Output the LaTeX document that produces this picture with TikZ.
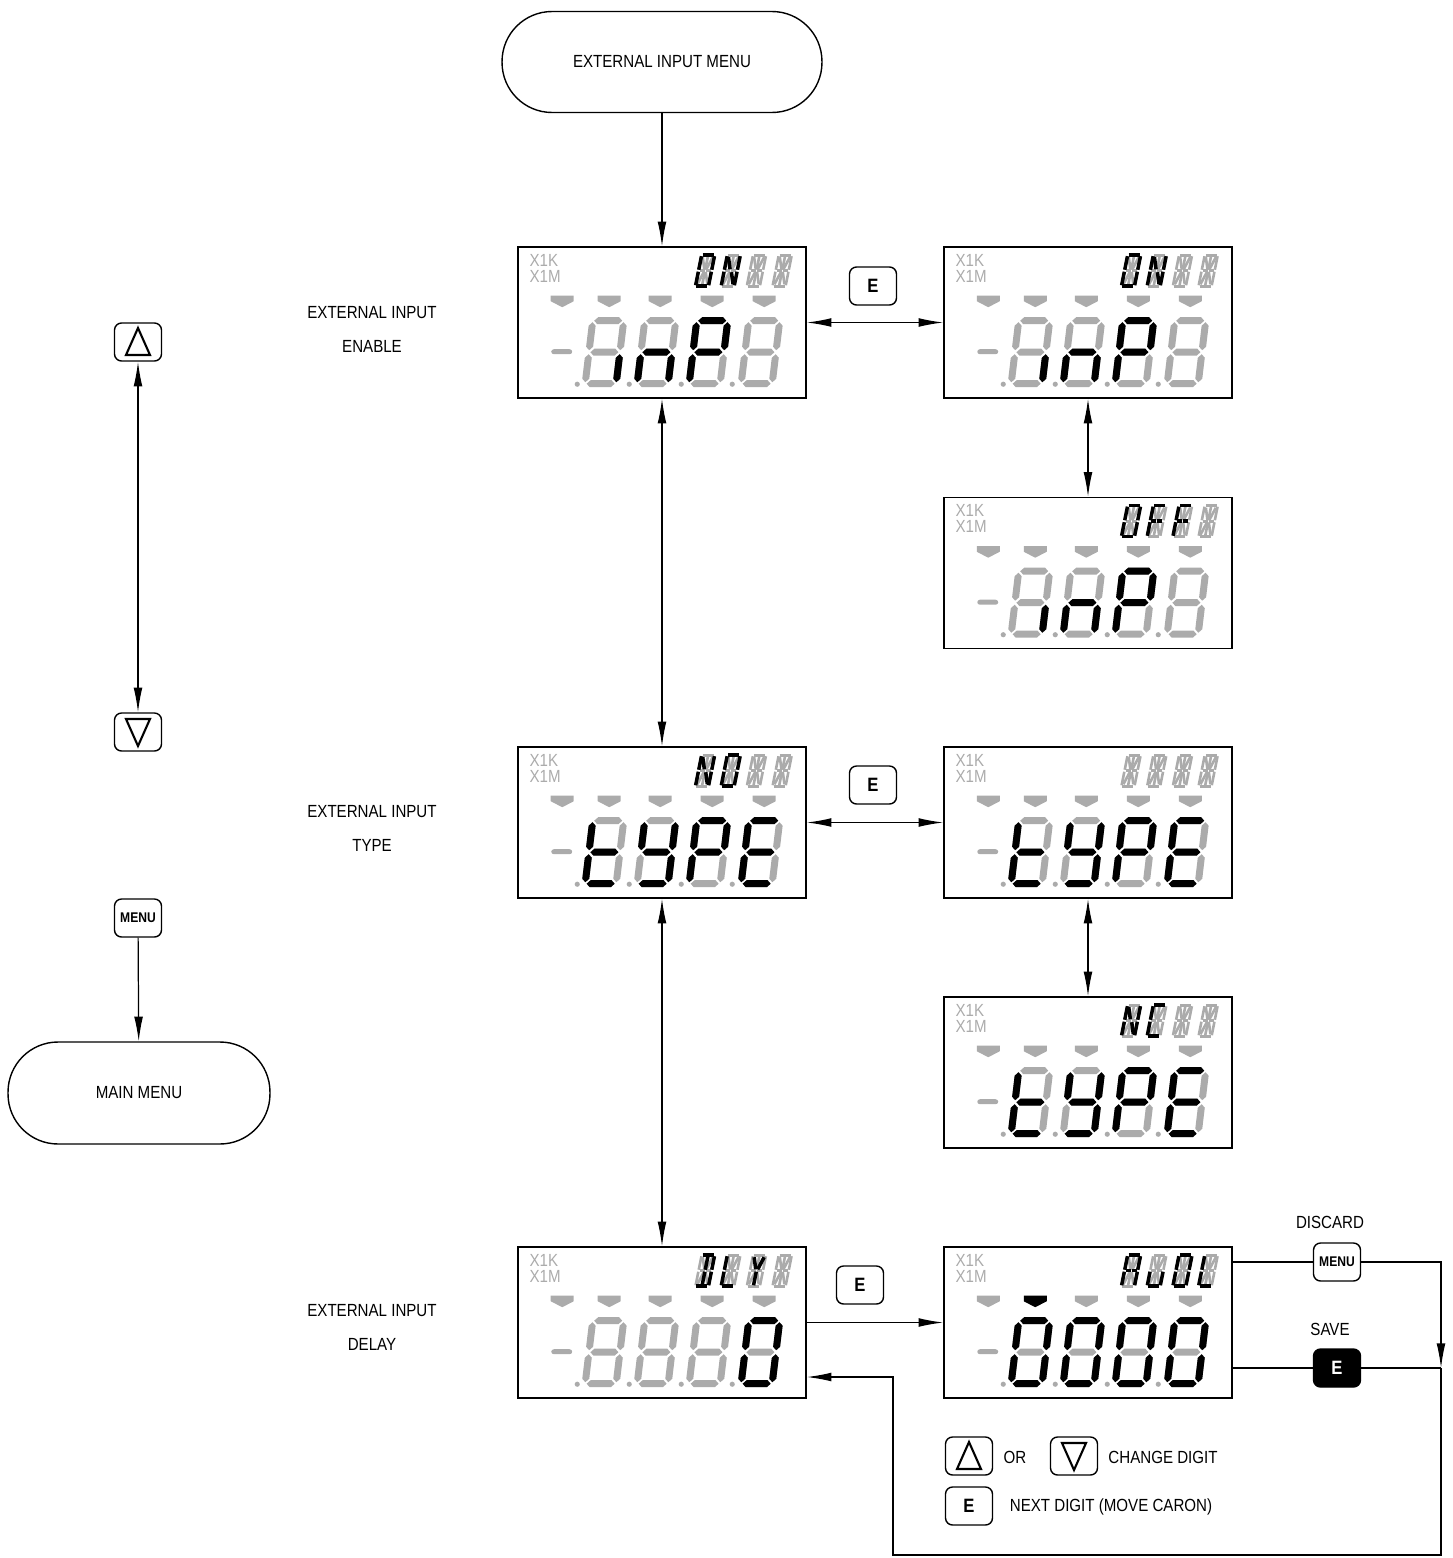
\documentclass[tikz,border=0pt]{standalone}
\usepackage{fontspec}
\setmainfont{Liberation Sans}[FakeStretch=0.86]
\usetikzlibrary{arrows.meta, calc, positioning}

\definecolor{LcdOff}{HTML}{ABABAB}
\colorlet{LcdOn}{black}

% 7-segment digit, origin at lower left corner
\expandafter\def\csname dseg@a\endcsname{(5,-66.5) -- (8.5,-70) -- (29.5,-70) -- (33,-66.5) -- (29.5,-63) -- (8.5,-63) -- cycle}
\expandafter\def\csname dseg@b\endcsname{(34.5,-65) -- (38,-61.5) -- (38,-40.5) -- (34.5,-37) -- (31,-40.5) -- (31,-61.5) -- cycle}
\expandafter\def\csname dseg@c\endcsname{(34.5,-33) -- (38,-29.5) -- (38,-8.5) -- (34.5,-5) -- (31,-8.5) -- (31,-29.5) -- cycle}
\expandafter\def\csname dseg@d\endcsname{(5,-3.5) -- (8.5,-7) -- (29.5,-7) -- (33,-3.5) -- (29.5,0) -- (8.5,0) -- cycle}
\expandafter\def\csname dseg@e\endcsname{(3.5,-33) -- (7,-29.5) -- (7,-8.5) -- (3.5,-5) -- (0,-8.5) -- (0,-29.5) -- cycle}
\expandafter\def\csname dseg@f\endcsname{(3.5,-65) -- (7,-61.5) -- (7,-40.5) -- (3.5,-37) -- (0,-40.5) -- (0,-61.5) -- cycle}
\expandafter\def\csname dseg@g\endcsname{(5,-35) -- (8.5,-38.5) -- (29.5,-38.5) -- (33,-35) -- (29.5,-31.5) -- (8.5,-31.5) -- cycle}

% 14-segment character, origin at lower left corner
\expandafter\def\csname cseg@a\endcsname{(2,-32) -- (13,-32)}
\expandafter\def\csname cseg@d\endcsname{(2,-1) -- (13,-1)}
\expandafter\def\csname cseg@f\endcsname{(1,-31) -- (1,-17.5)}
\expandafter\def\csname cseg@e\endcsname{(1,-15.5) -- (1,-2)}
\expandafter\def\csname cseg@b\endcsname{(14,-31) -- (14,-17.5)}
\expandafter\def\csname cseg@c\endcsname{(14,-15.5) -- (14,-2)}
\expandafter\def\csname cseg@g\endcsname{(2,-16.5) -- (7,-16.5)}
\expandafter\def\csname cseg@p\endcsname{(8,-16.5) -- (13,-16.5)}
\expandafter\def\csname cseg@h\endcsname{(2.5,-30) -- (6.5,-18)}
\expandafter\def\csname cseg@i\endcsname{(7.5,-31) -- (7.5,-17.5)}
\expandafter\def\csname cseg@j\endcsname{(12.5,-30) -- (8.5,-18)}
\expandafter\def\csname cseg@k\endcsname{(6.5,-15) -- (2.5,-3)}
\expandafter\def\csname cseg@l\endcsname{(7.5,-15.5) -- (7.5,-2)}
\expandafter\def\csname cseg@m\endcsname{(8.5,-15) -- (12.5,-3)}
\expandafter\def\csname cseg@z\endcsname{(0,0)}

\tikzset{
    lcd/.style={draw, line width=0.9pt, minimum width=5.76cm, minimum height=3.02cm, inner sep=0pt},
    lcdtext/.style={text=LcdOff, font=\fontsize{10}{11}\selectfont, anchor=west, inner sep=0pt},
    offline/.style={draw=LcdOff, line width=1.5pt},
    online/.style={draw=LcdOn, line width=2pt},
    key/.style={draw, line width=0.8pt, rounded corners=4pt, minimum width=0.94cm, minimum height=0.76cm,
        inner sep=0pt, font=\fontsize{11}{11}\selectfont\bfseries},
    menukey/.style={key, font=\fontsize{8}{8}\selectfont\bfseries},
    savekey/.style={key, fill=black, text=white},
    stadium/.style={draw, line width=0.8pt, rounded corners=1cm, inner sep=0pt},
    lbl/.style={align=center},
    flow/.style={line width=0.7pt}
}

% #1 name, #2 centre, #3 lit digit segments, #4 lit character segments, #5 lit caron
\newcommand{\lcdpanel}[5]{%
    \node[lcd] (#1) at #2 {};
    \begin{scope}[shift={(#1.north west)}]
        \node[lcdtext] at (12,14) {X1K};
        \node[lcdtext] at (12,30) {X1M};
        \foreach \cx [count=\k] in {45,92,143,195,247}{
            \ifnum\k=#5 \def\cc{LcdOn}\else\def\cc{LcdOff}\fi
            \fill[\cc] (\cx-11.5,49.5) -- (\cx+11.5,49.5) -- (\cx+11.5,55) -- (\cx,61) -- (\cx-11.5,55) -- cycle;
        }
        \fill[LcdOff, rounded corners=1.5pt] (34,103) rectangle (55,108);
        \foreach \dx in {60,112,164,215} \fill[LcdOff] (\dx,138) circle (2.6);
        % main digits
        \foreach \i in {1,...,4}{
            \begin{scope}[shift={({12+52*\i},141)}, xslant=0.12]
                \foreach \s in {a,b,c,d,e,f,g}{\edef\segp{\csname dseg@\s\endcsname}\fill[LcdOff] \segp;}
            \end{scope}
        }
        \foreach \i/\l in {#3}{
            \begin{scope}[shift={({12+52*\i},141)}, xslant=0.12]
                \foreach \s in \l {\edef\segp{\csname dseg@\s\endcsname}\fill[LcdOn] \segp;}
            \end{scope}
        }
        % small characters
        \foreach \i in {1,...,4}{
            \begin{scope}[shift={({151.3+25.7*\i},41)}, xslant=0.2]
                \foreach \s in {a,b,c,d,e,f,g,p,h,i,j,k,l,m}{\edef\segp{\csname cseg@\s\endcsname}\draw[offline] \segp;}
            \end{scope}
        }
        \foreach \i/\l in {#4}{
            \begin{scope}[shift={({151.3+25.7*\i},41)}, xslant=0.2]
                \foreach \s in \l {\edef\segp{\csname cseg@\s\endcsname}\draw[online] \segp;}
            \end{scope}
        }
    \end{scope}
}

\newcommand{\uptri}[1]{\draw[line width=1.2pt] ($(#1.center)+(0,-14)$) -- ($(#1.center)+(12,13)$) -- ($(#1.center)+(-12,13)$) -- cycle;}
\newcommand{\downtri}[1]{\draw[line width=1.2pt] ($(#1.center)+(0,14)$) -- ($(#1.center)+(12,-13)$) -- ($(#1.center)+(-12,-13)$) -- cycle;}

\begin{document}
\begin{tikzpicture}[x=0.02cm, y=-0.02cm, font=\fontsize{10}{19.4}\selectfont,
    >={Latex[length=14pt, width=5pt]}]

\useasboundingbox (0,0) rectangle (1453,1558);

% Menus
\node[stadium, minimum width=6.4cm, minimum height=2.02cm] (extmenu) at (662,62) {EXTERNAL INPUT MENU};
\node[stadium, minimum width=5.24cm, minimum height=2.04cm] (mainmenu) at (139,1093) {MAIN MENU};

% Displays
\lcdpanel{enable}{(662,322.5)}{1/{c},2/{e,g,c},3/{a,b,f,g,e}}{1/{a,b,c,d,e,f},2/{f,e,b,c,h,m}}{0}
\lcdpanel{enableon}{(1088,322.5)}{1/{c},2/{e,g,c},3/{a,b,f,g,e}}{1/{a,b,c,d,e,f},2/{f,e,b,c,h,m}}{0}
\lcdpanel{enableoff}{(1088,573)}{1/{c},2/{e,g,c},3/{a,b,f,g,e}}{1/{a,b,c,d,e,f},2/{a,f,e,g,p},3/{a,f,e,g,p}}{0}
\lcdpanel{type}{(662,822.5)}{1/{f,e,d,g},2/{f,b,g,c,d},3/{a,b,f,g,e},4/{a,f,g,e,d}}{1/{f,e,b,c,h,m},2/{a,b,c,d,e,f}}{0}
\lcdpanel{typeno}{(1088,822.5)}{1/{f,e,d,g},2/{f,b,g,c,d},3/{a,b,f,g,e},4/{a,f,g,e,d}}{0/z}{0}
\lcdpanel{typenc}{(1088,1072.5)}{1/{f,e,d,g},2/{f,b,g,c,d},3/{a,b,f,g,e},4/{a,f,g,e,d}}{1/{f,e,b,c,h,m},2/{a,f,e,d}}{0}
\lcdpanel{delay}{(662,1322.5)}{4/{a,b,c,d,e,f}}{1/{a,b,c,d,i,l},2/{f,e,d},3/{h,j,l}}{0}
\lcdpanel{delayedit}{(1088,1322.5)}{1/{a,b,c,d,e,f},2/{a,b,c,d,e,f},3/{a,b,c,d,e,f},4/{a,b,c,d,e,f}}{1/{a,b,c,e,f,g,p},2/{e,d,c},3/{a,b,c,d,e,f},4/{f,e,d}}{2}

% Labels
\node[lbl] (enablelbl) at (372,329) {EXTERNAL INPUT\\ENABLE};
\node[lbl] (typelbl) at (372,828) {EXTERNAL INPUT\\TYPE};
\node[lbl] (delaylbl) at (372,1327) {EXTERNAL INPUT\\DELAY};

% Keys
\node[key] (upk) at (138,342) {};
\uptri{upk}
\node[key] (downk) at (138,732) {};
\downtri{downk}
\node[menukey] (menuk) at (138,918) {MENU};
\node[key] (enablee) at (873,286) {E};
\node[key] (typee) at (873,785) {E};
\node[key] (delaye) at (860,1285) {E};
\node[menukey] (discard) at (1337,1262) {MENU};
\node[savekey] (save) at (1337,1368) {E};
\node (discardlbl) at (1330,1222) {DISCARD};
\node (savelbl) at (1330,1329) {SAVE};

% Legend
\node[key] (legup) at (969,1456) {};
\uptri{legup}
\node (orlbl) at (1015,1457) {OR};
\node[key] (legdown) at (1074,1456) {};
\downtri{legdown}
\node (changelbl) at (1163,1457) {CHANGE DIGIT};
\node[key] (legnext) at (969,1506) {E};
\node (nextlbl) at (1111,1507) {NEXT DIGIT (MOVE CARON)};

% Connectors
\draw[flow, ->] (extmenu) -- (enable);
\draw[flow, <->] (enable) -- (enableon);
\draw[flow, <->] (enableon) -- (enableoff);
\draw[flow, <->] (enable) -- (type);
\draw[flow, <->] (type) -- (typeno);
\draw[flow, <->] (typeno) -- (typenc);
\draw[flow, <->] (type) -- (delay);
\draw[flow, ->] (delay) -- (delayedit);
\draw[flow, <->] (upk) -- (downk);
\draw[flow, ->] (menuk) -- (mainmenu);

% Return from the edit display
\coordinate (corner) at (1441,1262);
\coordinate (join) at (1441,1368);
\coordinate (bottomright) at (1441,1555);
\coordinate (bottomleft) at (893,1555);
\coordinate (back) at (893,1377);
\draw[flow] (delayedit.east |- discard) -- (discard);
\draw[flow, ->] (discard) -- (corner) -- (join);
\draw[flow] (delayedit.east |- save) -- (save) -- (join);
\draw[flow, ->] (join) -- (bottomright) -- (bottomleft) -- (back) -- (delay.east |- back);

\end{tikzpicture}
\end{document}
